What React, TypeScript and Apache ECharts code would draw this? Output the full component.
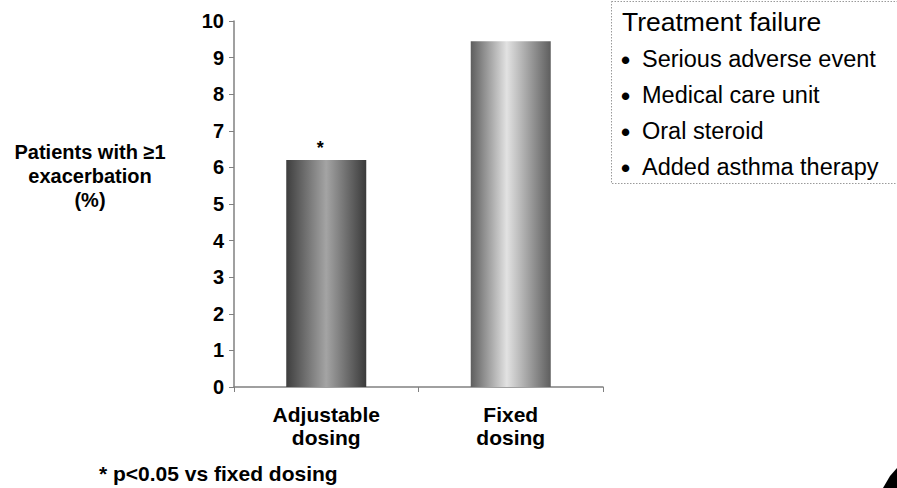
import React, { useEffect, useRef } from "react";
import * as echarts from "echarts";

const categories = ["Adjustable\ndosing", "Fixed\ndosing"];
const values = [6.2, 9.45];
const barLabels = ["*", ""];
const yTicks = { min: 0, max: 10, interval: 1 };
const yAxisTitle = "Patients with \u22651\nexacerbation\n(%)";
const boxTitle = "Treatment failure";
const boxItems = ["Serious adverse event", "Medical care unit", "Oral steroid", "Added asthma therapy"];
const footnote = "* p<0.05 vs fixed dosing";

const gradients = [
  [
    { offset: 0, color: "#3e3e3e" },
    { offset: 0.5, color: "#a4a4a4" },
    { offset: 1, color: "#3a3a3a" },
  ],
  [
    { offset: 0, color: "#5e5e5e" },
    { offset: 0.45, color: "#e2e2e2" },
    { offset: 1, color: "#5e5e5e" },
  ],
];

const FONT = "Liberation Sans, Arial, sans-serif";

export default function App() {
  const ref = useRef<HTMLDivElement>(null);
  useEffect(() => {
    if (!ref.current) return;
    const chart = echarts.init(ref.current, null, { renderer: "svg" });
    chart.setOption({
      animation: false,
      backgroundColor: "#ffffff",
      grid: { left: 234, right: 294, top: 21, bottom: 101 },
      xAxis: {
        type: "category",
        data: categories,
        axisLine: { show: true, lineStyle: { color: "#808080", width: 1.5 } },
        axisTick: { show: true, length: 5, lineStyle: { color: "#808080" } },
        axisLabel: {
          color: "#000",
          fontFamily: FONT,
          fontWeight: "bold",
          fontSize: 21,
          lineHeight: 23,
          margin: 16,
        },
      },
      yAxis: {
        type: "value",
        min: yTicks.min,
        max: yTicks.max,
        interval: yTicks.interval,
        splitLine: { show: false },
        axisLine: { show: true, lineStyle: { color: "#808080", width: 1.5 } },
        axisTick: { show: true, length: 5, lineStyle: { color: "#808080" } },
        axisLabel: {
          color: "#000",
          fontFamily: FONT,
          fontWeight: "bold",
          fontSize: 20,
          margin: 10,
        },
      },
      series: [
        {
          type: "bar",
          barWidth: 80,
          data: values.map((v, i) => ({
            value: v,
            itemStyle: {
              color: new echarts.graphic.LinearGradient(0, 0, 1, 0, gradients[i]),
            },
            label: {
              show: barLabels[i] !== "",
              position: "top",
              distance: 3,
              offset: [-6, 0],
              formatter: barLabels[i] || "",
              color: "#000",
              fontFamily: FONT,
              fontWeight: "bold",
              fontSize: 18,
            },
          })),
        },
      ],
      graphic: [
        {
          type: "text",
          x: 90,
          y: 176,
          style: {
            text: yAxisTitle,
            fill: "#000",
            font: `bold 20px ${FONT}`,
            lineHeight: 24,
            align: "center",
            verticalAlign: "middle",
          },
        },
        {
          type: "rect",
          shape: { x: 611.5, y: 1.5, width: 300, height: 182 },
          style: { fill: "none", stroke: "#9a9a9a", lineWidth: 1, lineDash: [1.5, 1.5] },
        },
        {
          type: "text",
          x: 622,
          y: 22,
          style: {
            text: boxTitle,
            fill: "#000",
            font: `26.5px ${FONT}`,
            verticalAlign: "middle",
          },
        },
        ...boxItems.map((t, i) => ({
          type: "text",
          x: 621,
          y: 60 + i * 36,
          style: {
            text: "\u2022",
            fill: "#000",
            font: `bold 26px ${FONT}`,
            verticalAlign: "middle",
          },
        })),
        ...boxItems.map((t, i) => ({
          type: "text",
          x: 642,
          y: 59 + i * 36,
          style: {
            text: t,
            fill: "#000",
            font: `23.5px ${FONT}`,
            verticalAlign: "middle",
          },
        })),
        {
          type: "text",
          x: 99,
          y: 473,
          style: {
            text: footnote,
            fill: "#000",
            font: `bold 21px ${FONT}`,
            verticalAlign: "middle",
          },
        },
        {
          type: "polygon",
          shape: { points: [[897, 468], [897, 488], [883, 488], [890, 476]] },
          style: { fill: "#000" },
        },
      ],
    });
    return () => chart.dispose();
  }, []);
  return (
    <div
      ref={ref}
      style={{ position: "fixed", left: 0, top: 0, width: 897, height: 488 }}
    />
  );
}
